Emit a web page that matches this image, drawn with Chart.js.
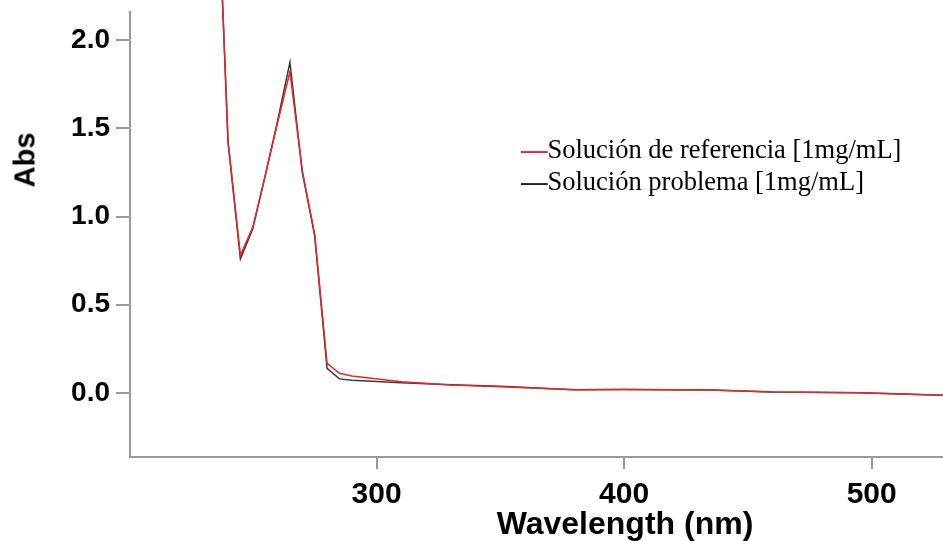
<!DOCTYPE html>
<html>
<head>
<meta charset="utf-8">
<script src="https://cdn.jsdelivr.net/npm/chart.js@4"></script>
<style>
  body { margin: 0; background: #fff; }
  #wrap { position: relative; width: 943px; height: 541px; }
  #legend { position: absolute; left: 521px; top: 133px; font-family: "Liberation Serif", serif; font-size: 26.5px; line-height: 32px; color: #000; white-space: nowrap; }
  #legend b { font-weight: bold; }
  #ytitle { position: absolute; left: 25px; top: 160px; font-family: "Liberation Sans", Arial, sans-serif; font-weight: bold; font-size: 29px; transform: translate(-50%, -50%) rotate(-90deg); }
  #xtitle { position: absolute; left: 625px; top: 505px; font-family: "Liberation Sans", Arial, sans-serif; font-weight: bold; font-size: 32px; transform: translateX(-50%); white-space: nowrap; }
</style>
</head>
<body>
<div id="wrap">
  <canvas id="chart" width="943" height="541"></canvas>
  <div id="legend">
    <div><b style="color:#e8262a">—</b>Solución de referencia [1mg/mL]</div>
    <div><b style="color:#222">—</b>Solución problema [1mg/mL]</div>
  </div>
  <div id="ytitle">Abs</div>
  <div id="xtitle">Wavelength (nm)</div>
</div>
<script>
// {{{ data
const wavelengths = [235, 240, 245, 250, 255, 260, 265, 270, 275, 280, 285, 290, 310, 330, 350, 380, 400, 435, 460, 495, 530];
const absReferencia = [3.2, 1.43, 0.78, 0.94, 1.23, 1.53, 1.82, 1.26, 0.90, 0.168, 0.112, 0.096, 0.064, 0.045, 0.036, 0.019, 0.02, 0.017, 0.006, 0.002, -0.013];
const absProblema = [3.2, 1.42, 0.76, 0.93, 1.23, 1.54, 1.874, 1.25, 0.89, 0.14, 0.08, 0.072, 0.058, 0.047, 0.038, 0.019, 0.02, 0.017, 0.006, 0.002, -0.013];
const xTicks = [300, 400, 500];
const yTicks = [0, 0.5, 1.0, 1.5, 2.0];
// }}}

const axisColor = '#9a9a9a';
let pts = (ys) => wavelengths.map((x, i) => ({x: x, y: ys[i]}));

new Chart(document.getElementById('chart'),
{
  type: 'line',
  data:
  {
    datasets:
    [
      {label: 'Solución de referencia [1mg/mL]', data: pts(absReferencia), borderColor: '#e8262a', borderWidth: 1.5, pointRadius: 0, tension: 0, clip: false},
      {label: 'Solución problema [1mg/mL]', data: pts(absProblema), borderColor: '#3a3a3a', borderWidth: 1.5, pointRadius: 0, tension: 0, clip: false}
    ]
  },
  options:
  {
    responsive: false,
    animation: false,
    layout: {padding: {top: 12, right: 0, left: 0, bottom: 0}},
    plugins: {legend: {display: false}, tooltip: {enabled: false}},
    scales:
    {
      x:
      {
        type: 'linear',
        min: 200.4,
        max: 528.8,
        afterBuildTicks: (s) => { s.ticks = xTicks.map((v) => ({value: v})); },
        afterFit: (s) => { s.height = 84; s.paddingLeft = 0; s.paddingRight = 0; },
        border: {display: true, color: axisColor, width: 2},
        grid: {drawOnChartArea: false, drawTicks: true, tickLength: 12, color: axisColor, lineWidth: 2},
        ticks: {color: '#000', padding: 8, maxRotation: 0, font: {family: 'Liberation Sans', weight: 'bold', size: 30}}
      },
      y:
      {
        type: 'linear',
        min: -0.3626,
        max: 2.159,
        afterBuildTicks: (s) => { s.ticks = yTicks.map((v) => ({value: v})); },
        afterFit: (s) => { s.width = 130; s.paddingTop = 0; s.paddingBottom = 0; },
        border: {display: true, color: axisColor, width: 2},
        grid: {drawOnChartArea: false, drawTicks: true, tickLength: 14, color: axisColor, lineWidth: 2},
        ticks: {color: '#000', padding: 6, callback: (v) => v.toFixed(1), font: {family: 'Liberation Sans', weight: 'bold', size: 28}}
      }
    }
  }
});
</script>
</body>
</html>
